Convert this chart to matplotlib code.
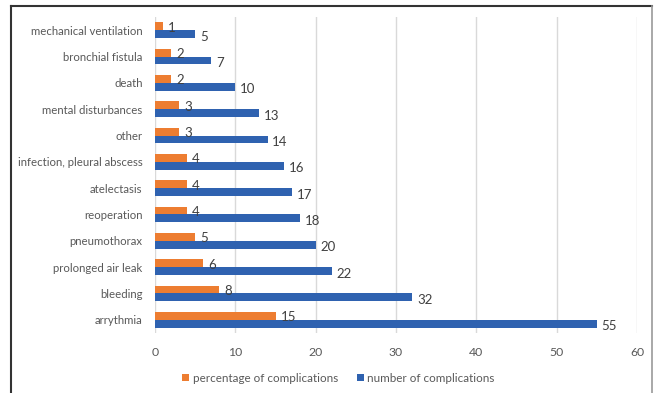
# Complications bar chart
import numpy as np
import matplotlib.pyplot as plt
from matplotlib.lines import Line2D

# Data (bottom to top)
categories = ['arrythmia', 'bleeding', 'prolonged air leak', 'pneumothorax',
              'reoperation', 'atelectasis', 'infection, pleural abscess',
              'other', 'mental disturbances', 'death', 'bronchial fistula',
              'mechanical ventilation']
percentage = [15, 8, 6, 5, 4, 4, 4, 3, 3, 2, 2, 1]
number = [55, 32, 22, 20, 18, 17, 16, 14, 13, 10, 7, 5]
x_ticks = [0, 10, 20, 30, 40, 50, 60]

plt.rcParams['font.family'] = ['Lato', 'DejaVu Sans']

orange = '#ED7D31'
blue = '#2F62B0'
text_col = '#404040'

fig = plt.figure(figsize=(6.57, 3.93), dpi=100)
ax = fig.add_axes([0.236, 0.1527, 0.7336, 0.804])

y = np.arange(len(categories))
h = 0.3
ax.barh(y + h / 2, percentage, height=h, color=orange, label='percentage of complications')
ax.barh(y - h / 2, number, height=h, color=blue, label='number of complications')

for yi, p, n in zip(y, percentage, number):
    ax.text(p + 0.6, yi + h / 2 - 0.06, str(p), va='center', ha='left', fontsize=9.5, color=text_col)
    ax.text(n + 0.6, yi - h / 2 - 0.1, str(n), va='center', ha='left', fontsize=9.5, color=text_col)

ax.set_xlim(0, 60)
ax.set_ylim(-0.5, len(categories) - 0.5)
ax.set_xticks(x_ticks)
ax.set_yticks(y)
ax.set_yticklabels(categories)
ax.tick_params(axis='both', length=0, labelsize=8.2, colors='#595959')
ax.tick_params(axis='x', pad=10, labelsize=8.8)
ax.tick_params(axis='y', pad=9)
for s in ax.spines.values():
    s.set_visible(False)
ax.grid(axis='x', color='#D9D9D9', linewidth=1)
ax.set_axisbelow(True)

fig.legend(loc='center', bbox_to_anchor=(0.515, 0.038), ncol=2, frameon=False,
           fontsize=8.4, handlelength=0.6, handleheight=0.6, handletextpad=0.3,
           columnspacing=1.6, labelcolor='#595959')

# frame around the figure (cropped at the bottom)
fig.add_artist(Line2D([0.0167, 0.0167], [-0.05, 0.985], color='#333333', linewidth=1.5, transform=fig.transFigure))
fig.add_artist(Line2D([0.0167, 0.992], [0.985, 0.985], color='#333333', linewidth=1.5, transform=fig.transFigure))
fig.add_artist(Line2D([0.992, 0.992], [-0.05, 0.985], color='#999999', linewidth=1.2, transform=fig.transFigure))

plt.savefig('out.png', dpi=100)
